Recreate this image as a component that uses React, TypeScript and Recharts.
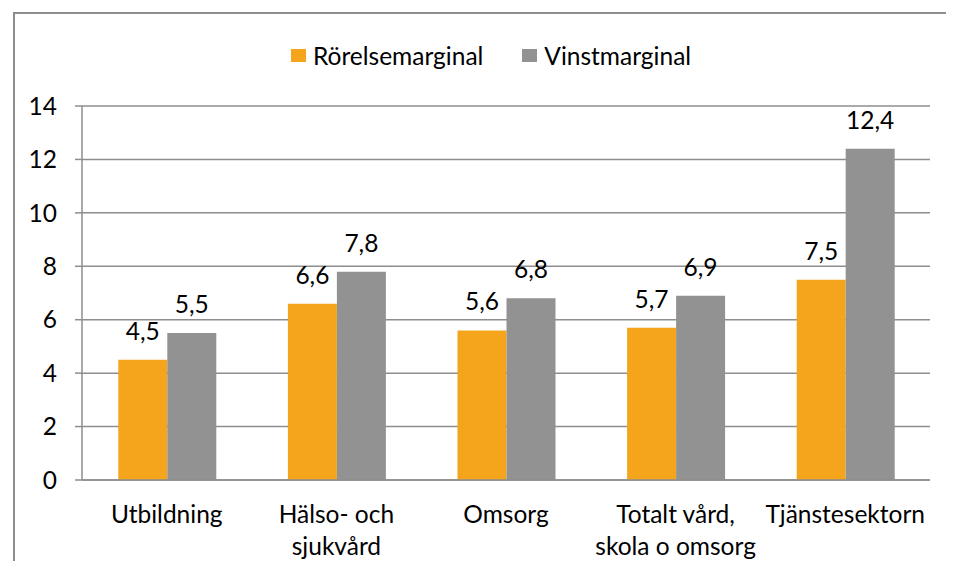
import { Bar, BarChart, CartesianGrid, LabelList, XAxis, YAxis } from 'recharts'

// Rörelse- och vinstmarginal per bransch (procent)
const kategorier = ['Utbildning', 'Hälso- och\nsjukvård', 'Omsorg', 'Totalt vård,\nskola o omsorg', 'Tjänstesektorn']
const rorelsemarginal = [4.5, 6.6, 5.6, 5.7, 7.5]
const vinstmarginal = [5.5, 7.8, 6.8, 6.9, 12.4]
const yTicks = [0, 2, 4, 6, 8, 10, 12, 14]
const kantTicks = [0, 1, 2, 3, 4, 5]

const serier = [
  { key: 'rorelse', name: 'Rörelsemarginal', color: '#f4a51c' },
  { key: 'vinst', name: 'Vinstmarginal', color: '#929292' },
]

const data = kategorier.map((k, i) => ({ kategori: k, rorelse: rorelsemarginal[i], vinst: vinstmarginal[i] }))

const FONT = 'Lato, "Open Sans", sans-serif'
const FS = 24.5
const GRID = '#8e8e8e'
const komma = (v: any) => String(v).replace('.', ',')

function KategoriTick({ x, y, payload }: any) {
  const rader = String(payload.value).split('\n')
  return (
    <text x={x} y={y} textAnchor="middle" fontFamily={FONT} fontSize={FS} fill="#000">
      {rader.map((r, i) => (
        <tspan key={i} x={x} dy={i === 0 ? 43 : 32}>
          {r}
        </tspan>
      ))}
    </text>
  )
}

export default function App() {
  return (
    <div style={{ position: 'relative', margin: -8, width: 954, height: 569, overflow: 'hidden', background: '#fff' }}>
      <style>{'html, body { overflow: hidden; }'}</style>
      {/* ram runt diagrammet, går ut över bildens kant */}
      <div
        style={{
          position: 'absolute',
          left: 13,
          top: 12,
          width: 1000,
          height: 600,
          borderTop: `2px solid ${GRID}`,
          borderLeft: `2px solid ${GRID}`,
        }}
      />
      <div
        style={{
          position: 'absolute',
          left: 291,
          top: 41,
          display: 'flex',
          alignItems: 'center',
          fontFamily: FONT,
          fontSize: FS,
          color: '#000',
          whiteSpace: 'nowrap',
        }}
      >
        {serier.map((s) => (
          <span key={s.key} style={{ display: 'flex', alignItems: 'center', marginRight: 39 }}>
            <span style={{ width: 15, height: 13, background: s.color, marginRight: 7 }} />
            {s.name}
          </span>
        ))}
      </div>
      <div style={{ position: 'absolute', left: 8, top: 8 }}>
        <BarChart
          width={938}
          height={553}
          data={data}
          margin={{ top: 98, right: 16, left: 0, bottom: 21 }}
          barCategoryGap="21.4%"
          barGap={0}
        >
          <CartesianGrid vertical={false} stroke={GRID} strokeWidth={1.5} />
          <XAxis
            xAxisId="kant"
            type="number"
            domain={[0, 5]}
            ticks={kantTicks}
            allowDataOverflow
            height={0}
            axisLine={false}
            tickSize={8}
            tickLine={{ stroke: GRID, strokeWidth: 1.5 }}
            tick={() => <g />}
          />
          <XAxis
            dataKey="kategori"
            height={60}
            tickLine={false}
            tickSize={0}
            tickMargin={0}
            axisLine={{ stroke: GRID, strokeWidth: 1.5 }}
            interval={0}
            tick={<KategoriTick />}
          />
          <YAxis
            width={74}
            domain={[0, 14]}
            ticks={yTicks}
            tickSize={7}
            tickMargin={18}
            axisLine={{ stroke: GRID, strokeWidth: 1.5 }}
            tickLine={{ stroke: GRID, strokeWidth: 1.5 }}
            tick={{ fontFamily: FONT, fontSize: FS, fill: '#000' }}
          />
          {serier.map((s) => (
            <Bar key={s.key} dataKey={s.key} name={s.name} fill={s.color} isAnimationActive={false}>
              <LabelList
                dataKey={s.key}
                position="top"
                offset={20}
                formatter={komma}
                style={{ fontFamily: FONT, fontSize: FS, fill: '#000' }}
              />
            </Bar>
          ))}
        </BarChart>
      </div>
    </div>
  )
}
